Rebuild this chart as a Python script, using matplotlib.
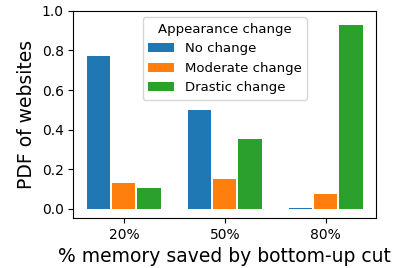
import matplotlib
matplotlib.use("Agg")
import matplotlib.pyplot as plt
import numpy as np

categories = ["20%", "50%", "80%"]
series_names = ["No change", "Moderate change", "Drastic change"]
no_change = [0.771, 0.499, 0.005]
moderate_change = [0.131, 0.151, 0.076]
drastic_change = [0.105, 0.353, 0.929]
colors = ["#1f77b4", "#ff7f0e", "#2ca02c"]

fig = plt.figure(figsize=(4.01, 2.68), dpi=100)
ax = fig.add_axes([0.183, 0.187, 0.755, 0.773])

x = np.arange(len(categories))
offsets = [-0.25, 0.0, 0.25]
for vals, name, c, off in zip([no_change, moderate_change, drastic_change], series_names, colors, offsets):
    ax.bar(x + off, vals, width=0.23, color=c, label=name)

ax.set_xticks(x)
ax.set_xticklabels(categories, fontsize=10)
ax.tick_params(axis="y", labelsize=10)
ax.set_xlim(-0.5, 2.5)
ax.set_ylim(-0.045, 1.0)
ax.set_yticks([0.0, 0.2, 0.4, 0.6, 0.8, 1.0])
ax.set_xlabel("% memory saved by bottom-up cut", fontsize=13.5)
ax.set_ylabel("PDF of websites", fontsize=13.5)
ax.legend(title="Appearance change", loc="upper center", fontsize=9.5, title_fontsize=9.5)

fig.savefig("out.png", dpi=100)
